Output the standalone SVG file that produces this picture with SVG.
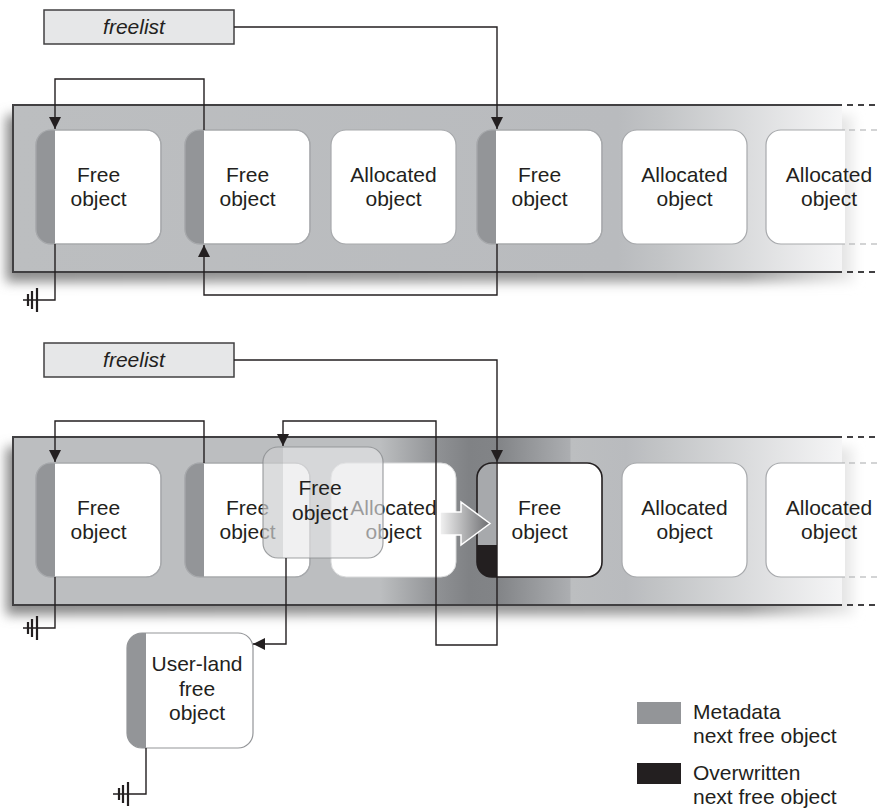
<svg xmlns="http://www.w3.org/2000/svg" width="879" height="809" viewBox="0 0 879 809">
<style>
text{font-family:"Liberation Sans",Arial,sans-serif;font-size:21px;fill:#231f20;text-anchor:middle}
.lg{text-anchor:start}
.it{font-style:italic}
.fl{fill:#e6e7e8;stroke:#414042;stroke-width:1.5}
.obj{fill:#fff;stroke:#a7a9ac;stroke-width:1.2}
.band{fill:#939598}
.edge{stroke:#414042;stroke-width:2;fill:none}
.dash{stroke-dasharray:6 5}
.odash{stroke:#a7a9ac;stroke-width:1.2;fill:none;stroke-dasharray:6 5}
.con{fill:none;stroke:#231f20;stroke-width:1.4}
.gb{stroke:#231f20;stroke-width:2.2;fill:none}
</style>
<defs>
<marker id="ah" viewBox="0 0 12 12" refX="12" refY="6" markerWidth="12" markerHeight="12" markerUnits="userSpaceOnUse" orient="auto">
<path d="M0,0 L12,6 L0,12 Z" fill="#231f20"/>
</marker>
<rect id="obj" width="125" height="114" rx="15"/>
<path id="band" d="M19,0 H15 A15,15 0 0 0 0,15 V99 A15,15 0 0 0 15,114 H19 Z"/>
<path id="gnd" d="M-27,-6 V6 M-23,-9 V9 M-18,-12 V12"/>
<filter id="blur" x="-5%" y="-30%" width="110%" height="160%"><feGaussianBlur stdDeviation="6"/></filter>
<linearGradient id="shg" gradientUnits="userSpaceOnUse" x1="7" y1="0" x2="875" y2="0">
<stop offset="0" stop-color="#8a8a8a"/><stop offset="0.85" stop-color="#9a9a9a"/><stop offset="1" stop-color="#fff"/>
</linearGradient>
<linearGradient id="g1" gradientUnits="userSpaceOnUse" x1="13" y1="0" x2="842" y2="0">
<stop offset="0" stop-color="#bcbec0"/>
<stop offset="0.73" stop-color="#b9bbbe"/>
<stop offset="0.78" stop-color="#c2c4c6"/>
<stop offset="1" stop-color="#f5f5f6"/>
</linearGradient>
<linearGradient id="g2" gradientUnits="userSpaceOnUse" x1="13" y1="0" x2="842" y2="0">
<stop offset="0" stop-color="#bcbec0"/>
<stop offset="0.443" stop-color="#bcbec0"/>
<stop offset="0.515" stop-color="#8e9093"/>
<stop offset="0.55" stop-color="#808285"/>
<stop offset="0.585" stop-color="#828487"/>
<stop offset="0.672" stop-color="#acaeb1"/>
<stop offset="0.673" stop-color="#bcbec0"/>
<stop offset="0.74" stop-color="#b9bbbe"/>
<stop offset="0.78" stop-color="#c2c4c6"/>
<stop offset="1" stop-color="#f5f5f6"/>
</linearGradient>
<linearGradient id="ag" x1="0" y1="0" x2="1" y2="0">
<stop offset="0" stop-color="#f2f2f2"/><stop offset="1" stop-color="#6d6e71"/>
</linearGradient>
</defs>

<!-- strip 1 -->
<g id="strip1">
<rect x="6" y="115" width="848" height="167" fill="url(#shg)" filter="url(#blur)"/>
<rect x="13" y="105" width="829" height="167" fill="url(#g1)"/>
<path class="edge" d="M842,105 H13 V272 H842"/>
<path class="edge dash" d="M847,105 H879 M847,272 H879"/>
</g>
<g id="t-free1"><use href="#obj" class="obj" x="36" y="130"/><use href="#band" class="band" x="36" y="130"/><use href="#obj" x="36" y="130" fill="none" stroke="#a7a9ac" stroke-width="1.2"/><text x="98.5" y="182">Free</text><text x="98.5" y="206">object</text></g>
<g id="t-free2"><use href="#obj" class="obj" x="185" y="130"/><use href="#band" class="band" x="185" y="130"/><use href="#obj" x="185" y="130" fill="none" stroke="#a7a9ac" stroke-width="1.2"/><text x="247.5" y="182">Free</text><text x="247.5" y="206">object</text></g>
<g id="t-alloc1"><use href="#obj" class="obj" x="331" y="130"/><text x="393.5" y="182">Allocated</text><text x="393.5" y="206">object</text></g>
<g id="t-free3"><use href="#obj" class="obj" x="477" y="130"/><use href="#band" class="band" x="477" y="130"/><use href="#obj" x="477" y="130" fill="none" stroke="#a7a9ac" stroke-width="1.2"/><text x="539.5" y="182">Free</text><text x="539.5" y="206">object</text></g>
<g id="t-alloc2"><use href="#obj" class="obj" x="622" y="130"/><text x="684.5" y="182">Allocated</text><text x="684.5" y="206">object</text></g>
<g id="t-alloc3"><path d="M845,130 H781 A15,15 0 0 0 766,145 V229 A15,15 0 0 0 781,244 H845 Z" fill="#fff"/><path d="M845,130 H781 A15,15 0 0 0 766,145 V229 A15,15 0 0 0 781,244 H845" fill="none" stroke="#a7a9ac" stroke-width="1.2"/><path class="odash" d="M849,130 H879 M849,244 H879"/><text x="829" y="182">Allocated</text><text x="829" y="206">object</text></g>
<g id="t-freelist"><rect class="fl" x="44" y="10" width="190" height="34"/><text class="it" x="134" y="34">freelist</text></g>

<!-- strip 2 -->
<g id="strip2">
<rect x="6" y="447" width="848" height="168" fill="url(#shg)" filter="url(#blur)"/>
<rect x="13" y="437" width="829" height="168" fill="url(#g2)"/>
<path class="edge" d="M842,437 H13 V605 H842"/>
<path class="edge dash" d="M847,437 H879 M847,605 H879"/>
</g>
<g id="b-free1"><use href="#obj" class="obj" x="36" y="463"/><use href="#band" class="band" x="36" y="463"/><use href="#obj" x="36" y="463" fill="none" stroke="#a7a9ac" stroke-width="1.2"/><text x="98.5" y="515">Free</text><text x="98.5" y="539">object</text></g>
<g id="b-free2"><use href="#obj" class="obj" x="185" y="463"/><use href="#band" class="band" x="185" y="463"/><use href="#obj" x="185" y="463" fill="none" stroke="#a7a9ac" stroke-width="1.2"/><text x="247.5" y="515">Free</text><text x="247.5" y="539">object</text></g>
<g id="b-alloc1"><use href="#obj" x="331" y="463" fill="#fff" stroke="#d8d9da" stroke-width="1"/><text x="393.5" y="515">Allocated</text><text x="393.5" y="539">object</text></g>
<g id="b-free3"><use href="#obj" x="477" y="463" fill="#fff"/><use href="#band" x="477" y="463" fill="#a7a9ac"/><path d="M497,545 H477 V563 A15,15 0 0 0 492,577 H497 Z" fill="#231f20"/><use href="#obj" x="477" y="463" fill="none" stroke="#231f20" stroke-width="1.6"/><text x="539.5" y="515">Free</text><text x="539.5" y="539">object</text></g>
<g id="b-alloc2"><use href="#obj" class="obj" x="622" y="463"/><text x="684.5" y="515">Allocated</text><text x="684.5" y="539">object</text></g>
<g id="b-alloc3"><path d="M845,463 H781 A15,15 0 0 0 766,478 V562 A15,15 0 0 0 781,577 H845 Z" fill="#fff"/><path d="M845,463 H781 A15,15 0 0 0 766,478 V562 A15,15 0 0 0 781,577 H845" fill="none" stroke="#a7a9ac" stroke-width="1.2"/><path class="odash" d="M849,463 H879 M849,577 H879"/><text x="829" y="515">Allocated</text><text x="829" y="539">object</text></g>
<g id="b-ghost">
<rect x="263" y="447" width="120" height="111" rx="15" fill="#e6e7e8" fill-opacity="0.62" stroke="#8a8c8e" stroke-opacity="0.8" stroke-width="1.2"/>
<path d="M283,447 H278 A15,15 0 0 0 263,462 V543 A15,15 0 0 0 278,558 H283 Z" fill="#939598" fill-opacity="0.22"/>
<text x="320" y="495">Free</text><text x="320" y="520">object</text>
</g>
<g id="b-move"><path d="M440,512 H461 V502 L490,523.5 L461,545 V535 H440 Z" fill="url(#ag)" stroke="#fff" stroke-width="1.5"/></g>
<g id="b-freelist"><rect class="fl" x="44" y="343" width="190" height="34"/><text class="it" x="134" y="367">freelist</text></g>
<g id="b-userland"><rect x="127" y="633" width="126" height="115" rx="15" fill="#fff" stroke="#939598" stroke-width="1.2"/><path d="M146,633 H142 A15,15 0 0 0 127,648 V733 A15,15 0 0 0 142,748 H146 Z" fill="#939598"/><text x="197" y="671">User-land</text><text x="197" y="696">free</text><text x="197" y="720">object</text></g>

<g id="legend">
<rect x="637" y="702" width="44" height="22" fill="#939598"/>
<text class="lg" x="693" y="719">Metadata</text><text class="lg" x="693" y="743">next free object</text>
<rect x="637" y="763" width="44" height="21" fill="#231f20"/>
<text class="lg" x="693" y="780">Overwritten</text><text class="lg" x="693" y="804">next free object</text>
</g>

<g id="connectors">
<path class="con" d="M234,27 H497 V129" marker-end="url(#ah)"/>
<path class="con" d="M204,130 V79 H55 V129" marker-end="url(#ah)"/>
<path class="con" d="M55,244 V300 H23"/>
<use href="#gnd" class="gb" x="55" y="300"/>
<path class="con" d="M497,244 V295 H204 V245" marker-end="url(#ah)"/>
<path class="con" d="M234,360 H497 V462" marker-end="url(#ah)"/>
<path class="con" d="M204,463 V421 H55 V462" marker-end="url(#ah)"/>
<path class="con" d="M55,577 V628 H23"/>
<use href="#gnd" class="gb" x="55" y="628"/>
<path class="con" d="M497,462 V645 H436 V421 H283 V446" marker-end="url(#ah)"/>
<path class="con" d="M286,558 V644 H253" marker-end="url(#ah)"/>
<path class="con" d="M146,748 V794 H113"/>
<use href="#gnd" class="gb" x="146" y="794"/>
</g>
</svg>
